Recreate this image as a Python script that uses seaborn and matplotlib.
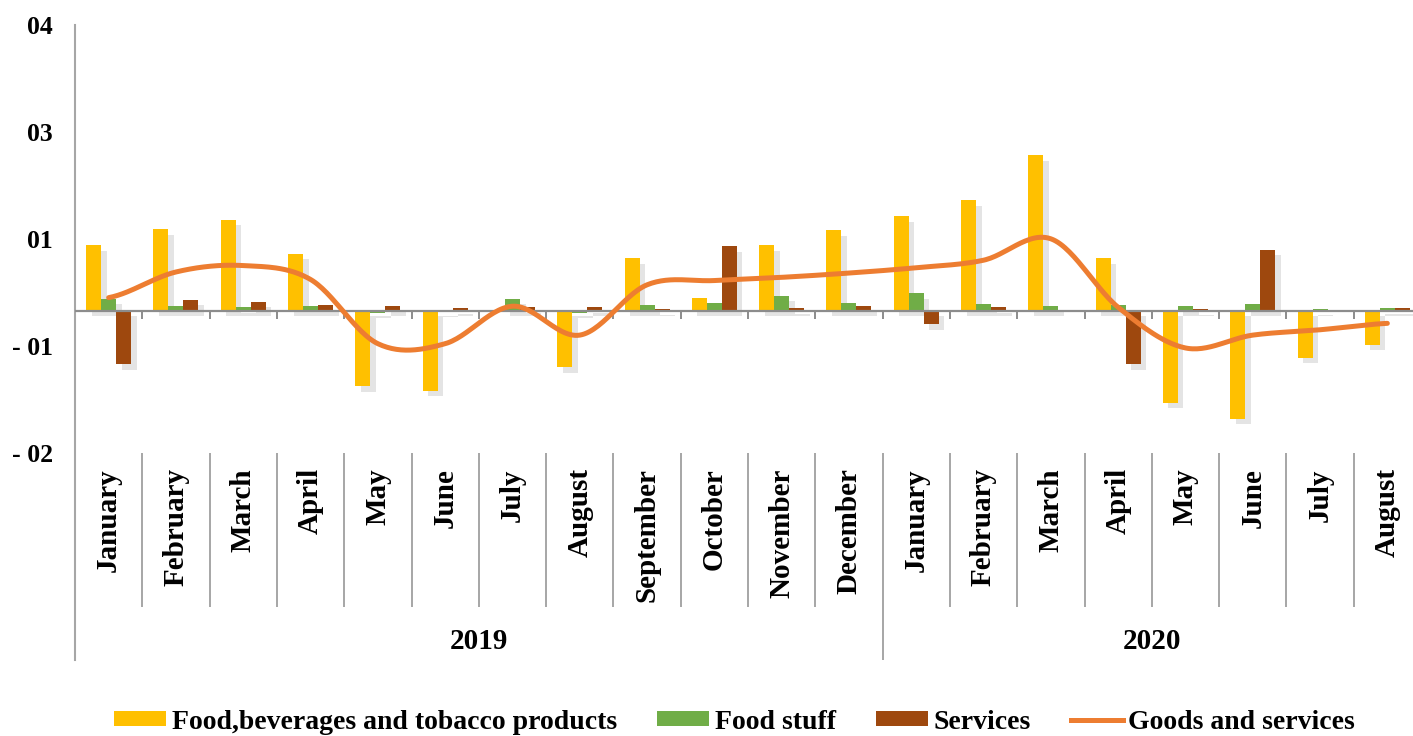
import numpy as np
import pandas as pd
import matplotlib
matplotlib.use("Agg")
import matplotlib.pyplot as plt
import matplotlib.patheffects as pe
from matplotlib.patches import Patch
from matplotlib.lines import Line2D
import seaborn as sns

# Data (one axis step = 10 units)
months = ["January", "February", "March", "April", "May", "June", "July",
          "August", "September", "October", "November", "December",
          "January", "February", "March", "April", "May", "June", "July", "August"]
years = ["2019"] * 12 + ["2020"] * 8
food_bev = [6.1, 7.6, 8.5, 5.3, -7.1, -7.5, 0.0, -5.3, 4.9, 1.2, 6.1, 7.5,
            8.8, 10.3, 14.5, 4.9, -8.6, -10.1, -4.4, -3.2]
food_stuff = [1.1, 0.4, 0.3, 0.4, -0.2, -0.1, 1.1, -0.2, 0.5, 0.7, 1.4, 0.7,
              1.6, 0.6, 0.4, 0.5, 0.4, 0.6, 0.1, 0.2]
services = [-5.0, 1.0, 0.8, 0.5, 0.4, 0.2, 0.3, 0.3, 0.1, 6.0, 0.2, 0.4,
            -1.3, 0.3, 0.0, -5.0, 0.1, 5.7, 0.0, 0.2]
goods_services = [1.2, 3.6, 4.2, 2.9, -3.1, -3.1, 0.4, -2.3, 2.4, 2.8, 3.1, 3.5,
                  4.0, 4.7, 6.7, 0.3, -3.5, -2.3, -1.8, -1.2]
ytick_pos = [26.68, 16.68, 6.68, -3.32, -13.32]
ytick_labels = ["04", "03", "01", "- 01", "- 02"]

series_names = ["Food,beverages and tobacco products", "Food stuff", "Services"]
colors = ["#FFC000", "#70AD47", "#9E480E"]
line_color = "#ED7D31"

periods = [f"{y}-{i:02d}" for i, y in enumerate(years)]
df = pd.DataFrame({
    "period": periods * 3,
    "value": food_bev + food_stuff + services,
    "series": [series_names[0]] * 20 + [series_names[1]] * 20 + [series_names[2]] * 20,
})

plt.rcParams["font.family"] = ["Liberation Serif", "DejaVu Serif"]
plt.rcParams["font.weight"] = "bold"

fig = plt.figure(figsize=(14.13, 7.36), dpi=100)
ax = fig.add_axes([75 / 1413, 76 / 736, 1346 / 1413, 635 / 736])

sns.barplot(data=df, x="period", y="value", hue="series", order=periods,
            hue_order=series_names, palette=colors, width=0.67,
            saturation=1, linewidth=0, ax=ax)
if ax.legend_ is not None:
    ax.legend_.remove()

# soft drop shadow like the original
shadow = [pe.SimplePatchShadow(offset=(4, -4), shadow_rgbFace="#c4c4c4", alpha=0.45),
          pe.Normal()]
for p in ax.patches:
    p.set_path_effects(shadow)

# smoothed line (Bezier / Catmull-Rom like Excel smoothing)
pts = np.array(goods_services, dtype=float)
n = len(pts)
xs_all, ys_all = [], []
t = np.linspace(0, 1, 30)
for i in range(n - 1):
    p0 = pts[i - 1] if i > 0 else pts[i]
    p1, p2 = pts[i], pts[i + 1]
    p3 = pts[i + 2] if i + 2 < n else pts[i + 1]
    b1 = p1 + (p2 - p0) / 6
    b2 = p2 - (p3 - p1) / 6
    yy = (1 - t) ** 3 * p1 + 3 * (1 - t) ** 2 * t * b1 + 3 * (1 - t) * t ** 2 * b2 + t ** 3 * p2
    xs_all.extend(i + t)
    ys_all.extend(yy)
ax.plot(xs_all, ys_all, color=line_color, lw=3.6, solid_capstyle="round", zorder=5)

ax.set_xlim(-0.5, 19.5)
ax.set_ylim(-32.66, 26.68)

# axis styling
for s in ["top", "right", "bottom"]:
    ax.spines[s].set_visible(False)
ax.spines["left"].set_color("#A6A6A6")
ax.spines["left"].set_linewidth(1.5)
ax.axhline(0, color="#8C8C8C", lw=1.6, zorder=3)
ax.vlines(np.arange(0.5, 19.5, 1), -0.8, 0, color="#8C8C8C", lw=1.4)

ax.set_yticks(ytick_pos)
ax.set_yticklabels(ytick_labels, fontsize=18.5, fontweight="bold")
ax.tick_params(axis="y", length=0, pad=16)
ax.set_xticks([])
ax.set_xlabel("")
ax.set_ylabel("")

# category label area
y_top = -13.32
y_mid = -27.71
y_bot = -32.66
ax.vlines(np.arange(0.5, 19.5, 1), y_mid, y_top, color="#A6A6A6", lw=1.4, clip_on=False)
ax.vlines([11.5], y_bot, y_mid, color="#A6A6A6", lw=1.4, clip_on=False)
for i, m in enumerate(months):
    ax.text(i, -14.75, m, rotation=90, rotation_mode="anchor", ha="right", va="center",
            fontsize=21, fontweight="bold")
ax.text(5.5, -30.9, "2019", ha="center", va="center", fontsize=21, fontweight="bold")
ax.text(15.5, -30.9, "2020", ha="center", va="center", fontsize=21, fontweight="bold")

handles = [Patch(facecolor=c, edgecolor="none") for c in colors]
handles.append(Line2D([0], [0], color=line_color, lw=3.6))
fig.legend(handles, series_names + ["Goods and services"], loc="center",
           bbox_to_anchor=(0.52, 0.019), ncol=4, frameon=False,
           prop={"size": 20, "weight": "bold"}, handlelength=1.87,
           handleheight=0.45, handletextpad=0.2, columnspacing=1.45)

fig.savefig("out.png", dpi=100)
